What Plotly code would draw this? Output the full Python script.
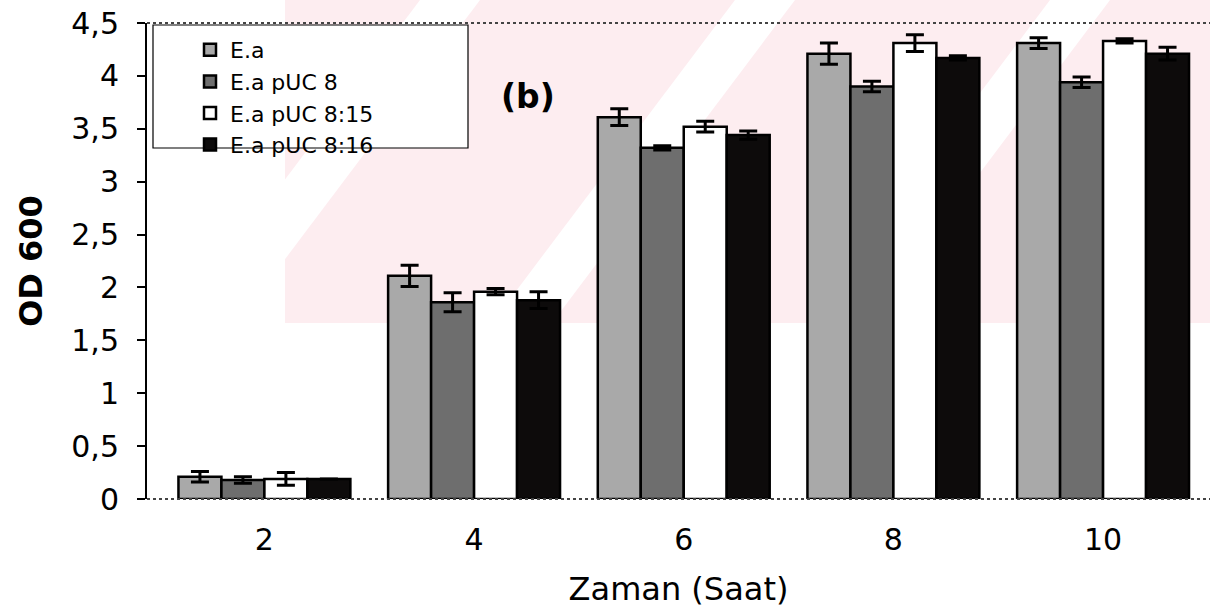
import plotly.graph_objects as go

times = ["2", "4", "6", "8", "10"]
series_names = ["E.a", "E.a pUC 8", "E.a pUC 8:15", "E.a pUC 8:16"]
ea = [0.21, 2.11, 3.61, 4.21, 4.31]
ea_err = [0.05, 0.10, 0.08, 0.10, 0.05]
puc8 = [0.18, 1.86, 3.32, 3.90, 3.94]
puc8_err = [0.03, 0.09, 0.02, 0.05, 0.05]
puc815 = [0.19, 1.96, 3.52, 4.31, 4.33]
puc815_err = [0.06, 0.03, 0.05, 0.08, 0.02]
puc816 = [0.19, 1.88, 3.44, 4.17, 4.21]
puc816_err = [0.0, 0.08, 0.04, 0.02, 0.06]
yticks = [0, 0.5, 1, 1.5, 2, 2.5, 3, 3.5, 4, 4.5]
yticktext = ["0", "0,5", "1", "1,5", "2", "2,5", "3", "3,5", "4", "4,5"]

values = [ea, puc8, puc815, puc816]
errors = [ea_err, puc8_err, puc815_err, puc816_err]
fills = ["#a9a9a9", "#6e6e6e", "#ffffff", "#0d0b0b"]

W, H = 1210, 614
L, R, T, B = 147, 0, 23, 115
pw, ph = W - L - R, H - T - B

def px(x):
    return (x - L) / pw

def py(y):
    return (H - B - y) / ph

fig = go.Figure()
for name, v, e, c in zip(series_names, values, errors, fills):
    fig.add_trace(go.Bar(
        name=name, x=times, y=v,
        marker=dict(color=c, line=dict(color="#000000", width=2.5)),
        error_y=dict(type="data", array=e, visible=True, color="#000000",
                     thickness=3, width=9),
    ))

pink = "#fdedf0"
shapes = [
    dict(type="rect", xref="paper", yref="paper", x0=px(285), x1=px(1210),
         y0=py(323), y1=py(0), fillcolor=pink, line=dict(width=0), layer="below"),
]
# white diagonal bands of the watermark
for x_top in [420, 735, 1050]:
    w = 60
    dx = 243
    shapes.append(dict(
        type="path", xref="paper", yref="paper", layer="below",
        path="M {},{} L {},{} L {},{} L {},{} Z".format(
            px(x_top - dx), py(323), px(x_top - dx + w), py(323),
            px(x_top + w), py(0), px(x_top), py(0)),
        fillcolor="#ffffff", line=dict(width=0)))
shapes += [
    dict(type="rect", xref="paper", yref="paper", x0=px(140), x1=px(285),
         y0=py(330), y1=py(0), fillcolor="#ffffff", line=dict(width=0), layer="below"),
    dict(type="line", xref="paper", yref="paper", x0=0, x1=1, y0=1, y1=1,
         line=dict(color="#444444", width=2, dash="dot")),
    dict(type="line", xref="paper", yref="paper", x0=0, x1=1, y0=0, y1=0,
         line=dict(color="#444444", width=2, dash="dot")),
    dict(type="rect", xref="paper", yref="paper", x0=px(153), x1=px(468),
         y0=py(148), y1=py(25), line=dict(color="#000000", width=1.2),
         fillcolor="#ffffff", layer="below"),
]

fig.update_layout(
    width=W, height=H,
    margin=dict(l=L, r=R, t=T, b=B, autoexpand=False),
    paper_bgcolor="#ffffff", plot_bgcolor="rgba(0,0,0,0)",
    barmode="group", bargap=0.18, bargroupgap=0,
    font=dict(family="DejaVu Sans", color="#000000"),
    showlegend=True,
    legend=dict(x=px(190), y=py(29), xanchor="left", yanchor="top",
                bgcolor="rgba(0,0,0,0)", borderwidth=0,
                font=dict(size=22, family="DejaVu Sans"),
                tracegroupgap=0, itemwidth=30),
    shapes=shapes,
    annotations=[dict(text="<b>(b)</b>", xref="paper", yref="paper",
                      x=px(528), y=py(75), showarrow=False,
                      font=dict(size=33, family="DejaVu Sans"))],
)
fig.update_xaxes(range=[-0.56, 4.51], showline=False, showgrid=False,
                 ticks="", tickfont=dict(size=30), ticklabelstandoff=20,
                 title=dict(text="Zaman (Saat)", font=dict(size=32), standoff=21))
fig.update_yaxes(range=[0, 4.5], tickvals=yticks, ticktext=yticktext,
                 showline=True, linecolor="#000000", linewidth=2,
                 ticks="outside", ticklen=8, tickwidth=1.5, tickcolor="#000000",
                 showgrid=False, zeroline=False, tickfont=dict(size=30),
                 ticklabelstandoff=12,
                 title=dict(text="<b>OD 600</b>", font=dict(size=32), standoff=19))

fig.write_html("out.html")
